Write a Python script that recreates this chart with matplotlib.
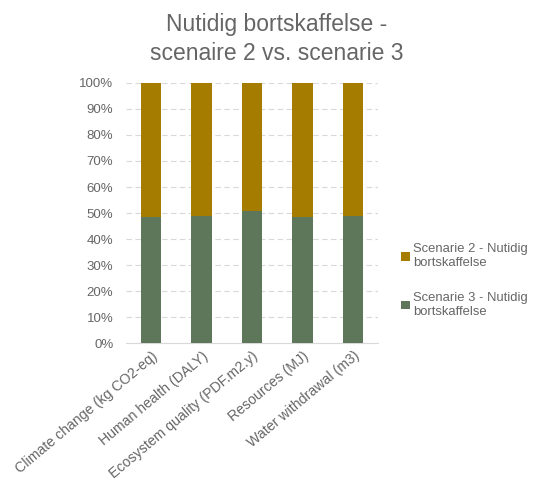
import matplotlib
matplotlib.use("Agg")
import matplotlib.pyplot as plt
import numpy as np
from matplotlib.ticker import PercentFormatter

plt.rcParams['font.family'] = ['Liberation Sans', 'DejaVu Sans']

categories = ["Climate change (kg CO2-eq)", "Human health (DALY)",
              "Ecosystem quality (PDF.m2.y)", "Resources (MJ)",
              "Water withdrawal (m3)"]
scen3 = [48.5, 49.0, 50.8, 48.5, 49.0]
scen2 = [100 - v for v in scen3]

fig = plt.figure(figsize=(5.38, 4.82), dpi=100)
ax = fig.add_axes([0.234, 0.288, 0.469, 0.54])

x = np.arange(len(categories))
w = 0.4
ax.bar(x, scen3, w, color="#5E775A", label="Scenarie 3 - Nutidig\nbortskaffelse", zorder=3)
ax.bar(x, scen2, w, bottom=scen3, color="#A67C00", label="Scenarie 2 - Nutidig\nbortskaffelse", zorder=3)

ax.set_xlim(-0.5, len(categories) - 0.5)
ax.set_ylim(0, 100)
ax.set_yticks(np.arange(0, 101, 10))
ax.yaxis.set_major_formatter(PercentFormatter(decimals=0))
ax.grid(axis="y", color="#D9D9D9", linestyle=(0, (5, 3)), linewidth=0.8, zorder=0)
for s in ["top", "right", "left"]:
    ax.spines[s].set_visible(False)
ax.spines["bottom"].set_color("#D9D9D9")
ax.tick_params(axis="both", length=0, colors="#666666", labelsize=9.5)
ax.tick_params(axis="y", pad=9)
ax.tick_params(axis="x", pad=4)
ax.set_xticks(x)
ax.set_xticklabels(categories, rotation=40, ha="right", rotation_mode="anchor", fontsize=10.2)

fig.suptitle("Nutidig bortskaffelse -\nscenaire 2 vs. scenarie 3", x=0.515, y=0.972,
             fontsize=16.5, color="#666666", linespacing=1.3)

handles, labels = ax.get_legend_handles_labels()
ax.legend(handles[::-1], labels[::-1], loc="center left", bbox_to_anchor=(1.045, 0.24),
          frameon=False, fontsize=9.4, labelcolor="#666666", handlelength=0.65,
          handleheight=0.65, handletextpad=0.25, labelspacing=1.75)

fig.savefig("out.png", dpi=100)
